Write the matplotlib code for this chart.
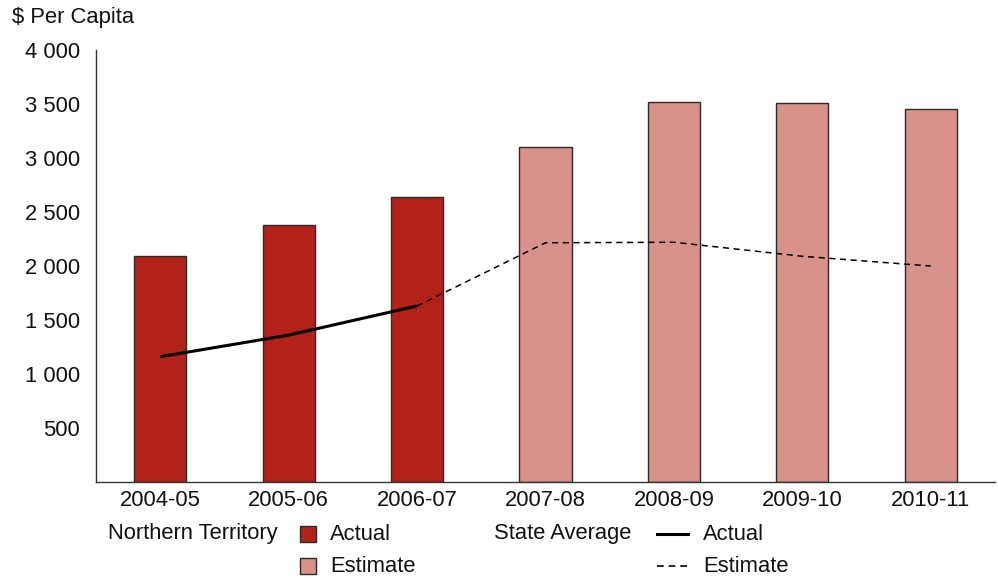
import matplotlib
matplotlib.use("Agg")
import matplotlib.pyplot as plt
from matplotlib.patches import Rectangle
from matplotlib.lines import Line2D

plt.rcParams['font.family'] = ['Liberation Sans', 'DejaVu Sans']

# Data
years = ["2004-05", "2005-06", "2006-07", "2007-08", "2008-09", "2009-10", "2010-11"]
nt_per_capita = [2090, 2380, 2640, 3100, 3515, 3505, 3455]
nt_is_estimate = [False, False, False, True, True, True, True]
state_avg = [1160, 1360, 1630, 2215, 2220, 2090, 2000]
n_actual = 3  # first three years are actuals
y_ticks = [500, 1000, 1500, 2000, 2500, 3000, 3500, 4000]
y_tick_labels = ["500", "1 000", "1 500", "2 000", "2 500", "3 000", "3 500", "4 000"]

ACTUAL_RED = "#B22218"
ESTIMATE_PINK = "#D8918B"
EDGE = "#2a2a2a"
FS = 15.8
TXT = "#111111"

W, H = 998, 578
fig = plt.figure(figsize=(W / 100, H / 100), dpi=100)
ax = fig.add_axes([96 / W, (H - 482) / H, (995 - 96) / W, (482 - 50) / H])

x = list(range(len(years)))
colors = [ESTIMATE_PINK if e else ACTUAL_RED for e in nt_is_estimate]
ax.bar(x, nt_per_capita, width=0.405, color=colors, edgecolor=EDGE, linewidth=1.0, zorder=2)

# State average: solid for actuals, dashed for estimates
ax.plot(x[:n_actual], state_avg[:n_actual], color="black", lw=2.2, zorder=3,
        solid_capstyle="butt")
ax.plot(x[n_actual - 1:], state_avg[n_actual - 1:], color="black", lw=1.1,
        linestyle=(0, (4, 3)), zorder=3)

ax.set_xlim(-0.5, 6.5)
ax.set_ylim(0, 4000)
ax.set_xticks(x)
ax.set_xticklabels(years, fontsize=FS)
ax.set_yticks(y_ticks)
ax.set_yticklabels(y_tick_labels, fontsize=FS)
ax.tick_params(axis="both", length=0, colors=TXT)
ax.tick_params(axis="y", pad=11.5)
ax.tick_params(axis="x", pad=5.5)
for s in ["top", "right"]:
    ax.spines[s].set_visible(False)
for s in ["left", "bottom"]:
    ax.spines[s].set_color("#333333")
    ax.spines[s].set_linewidth(1.0)

fig.text(12 / W, 1 - 18 / H, "$ Per Capita", fontsize=FS, ha="left", va="center", color=TXT)

# Legend built from text and shapes below the axis
def fx(px):
    return px / W

def fy(py):
    return 1 - py / H

row1, row2 = 534, 566
fig.text(fx(108), fy(row1), "Northern Territory", fontsize=FS, ha="left", va="center", color=TXT)
for py, col, lab in [(row1, ACTUAL_RED, "Actual"), (row2, ESTIMATE_PINK, "Estimate")]:
    fig.patches.append(Rectangle((fx(300), fy(py + 8)), 16 / W, 16 / H, facecolor=col,
                                 edgecolor=EDGE, linewidth=1.0, transform=fig.transFigure))
    fig.text(fx(330), fy(py), lab, fontsize=FS, ha="left", va="center", color=TXT)

fig.text(fx(494), fy(row1), "State Average", fontsize=FS, ha="left", va="center", color=TXT)
fig.lines.append(Line2D([fx(657), fx(688)], [fy(row1), fy(row1)], color="black", lw=2.2,
                        transform=fig.transFigure))
fig.lines.append(Line2D([fx(657), fx(688)], [fy(row2), fy(row2)], color="black", lw=1.2,
                        linestyle=(0, (4, 3)), transform=fig.transFigure))
fig.text(fx(703), fy(row1), "Actual", fontsize=FS, ha="left", va="center", color=TXT)
fig.text(fx(703), fy(row2), "Estimate", fontsize=FS, ha="left", va="center", color=TXT)

fig.savefig("out.png", dpi=100)
